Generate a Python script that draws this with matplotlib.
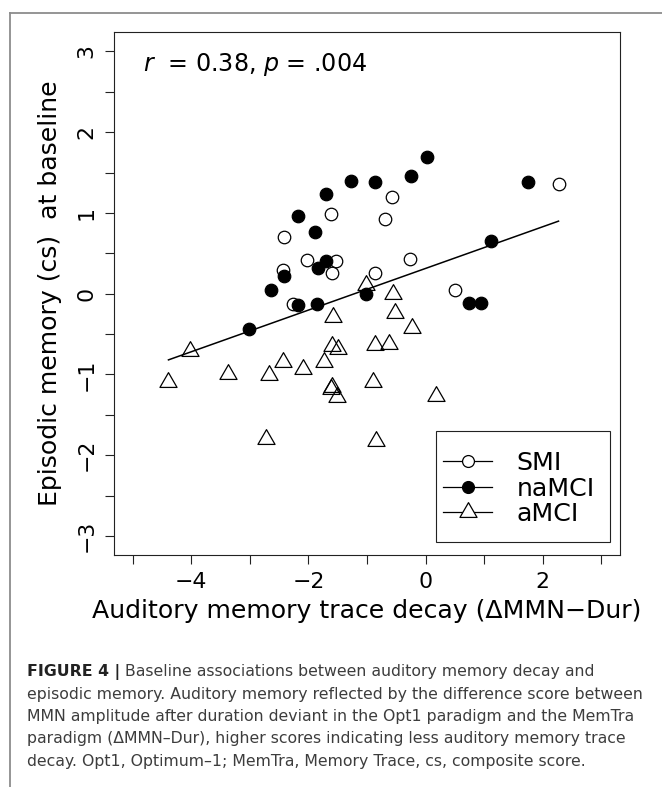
import numpy as np
import matplotlib
matplotlib.use("Agg")
import matplotlib.pyplot as plt
from matplotlib.path import Path
from matplotlib.lines import Line2D
from matplotlib.patches import Rectangle

# ---------------- data ----------------
smi_x = [-1.62, -2.42, -2.03, -1.53, -2.43, -1.60, -0.87, -2.27, -0.57, -0.70, 2.27, -0.26, 0.51]
smi_y = [0.99, 0.70, 0.42, 0.41, 0.29, 0.26, 0.26, -0.13, 1.20, 0.92, 1.36, 0.43, 0.04]

namci_x = [-1.28, -0.86, -1.70, -2.17, -1.88, -1.70, -1.84, -2.42, -2.64, -2.17, -1.86, -1.02,
           -3.01, -0.25, 0.02, 1.75, 1.11, 0.75, 0.94]
namci_y = [1.40, 1.38, 1.23, 0.96, 0.76, 0.40, 0.32, 0.22, 0.05, -0.14, -0.13, -0.01,
           -0.44, 1.46, 1.69, 1.38, 0.65, -0.12, -0.11]

amci_x = [-1.58, -4.03, -1.60, -1.49, -0.86, -0.62, -2.43, -2.10, -1.74, -3.38, -2.68, -4.39,
          -1.61, -1.60, -1.51, -0.90, -2.73, -0.85, -1.02, -0.56, -0.53, -0.23, 0.17]
amci_y = [-0.29, -0.71, -0.65, -0.69, -0.64, -0.62, -0.85, -0.93, -0.85, -0.99, -1.01, -1.10,
          -1.18, -1.16, -1.28, -1.10, -1.80, -1.83, 0.11, 0.00, -0.24, -0.42, -1.27]

group_labels = ["SMI", "naMCI", "aMCI"]
x_tick_values = [-5, -4, -3, -2, -1, 0, 1, 2, 3]
x_tick_labels = ["", "\u22124", "", "\u22122", "", "0", "", "2", ""]
y_tick_values = [-3, -2.5, -2, -1.5, -1, -0.5, 0, 0.5, 1, 1.5, 2, 2.5, 3]
y_tick_labels = ["\u22123", "", "\u22122", "", "\u22121", "", "0", "", "1", "", "2", "", "3"]
stat_text = r"$\mathit{r}$  = 0.38, $\mathit{p}$ = .004"
x_label = "Auditory memory trace decay (\u0394MMN\u2212Dur)"
y_label = "Episodic memory (cs)  at baseline"

caption_bold = "FIGURE 4 |"
caption_lines = [
    "Baseline associations between auditory memory decay and",
    "episodic memory. Auditory memory reflected by the difference score between",
    "MMN amplitude after duration deviant in the Opt1 paradigm and the MemTra",
    "paradigm (\u0394MMN\u2013Dur), higher scores indicating less auditory memory trace",
    "decay. Opt1, Optimum\u20131; MemTra, Memory Trace, cs, composite score.",
]

# ---------------- style ----------------
plt.rcParams["font.family"] = ["DejaVu Sans"]
plt.rcParams["mathtext.fontset"] = "dejavusans"

W, H = 662, 787
fig = plt.figure(figsize=(W / 100, H / 100), dpi=100)
fig.patch.set_facecolor("white")

def fx(px):
    return px / W

def fy(py):
    return 1 - py / H

ax_l, ax_r, ax_t, ax_b = 114, 620, 32, 555.3
ax = fig.add_axes([fx(ax_l), fy(ax_b), (ax_r - ax_l) / W, (ax_b - ax_t) / H])

# triangle marker with centroid at the point (R pch=2 style)
tri = Path([(0, 1), (-0.866, -0.5), (0.866, -0.5), (0, 1)],
           [Path.MOVETO, Path.LINETO, Path.LINETO, Path.CLOSEPOLY])

ms_c = 9.0
ms_t = 14.2
ax.plot(smi_x, smi_y, ls="none", marker="o", ms=ms_c, mfc="none", mec="black", mew=0.9)
ax.plot(namci_x, namci_y, ls="none", marker="o", ms=ms_c, mfc="black", mec="black", mew=0.9)
ax.plot(amci_x, amci_y, ls="none", marker=tri, ms=ms_t, mfc="none", mec="black", mew=0.9)

# regression line over the data range
all_x = np.array(smi_x + namci_x + amci_x)
all_y = np.array(smi_y + namci_y + amci_y)
slope, intercept = np.polyfit(all_x, all_y, 1)
xx = np.array([all_x.min(), all_x.max()])
ax.plot(xx, intercept + slope * xx, color="black", lw=1.1)

ax.set_xlim(-5.32, 3.32)
ax.set_ylim(-3.24, 3.24)
ax.set_xticks(x_tick_values)
ax.set_xticklabels(x_tick_labels)
ax.set_yticks(y_tick_values)
ax.set_yticklabels(y_tick_labels, rotation=90, va="center")
ax.tick_params(axis="both", direction="out", length=6.8, width=0.8, labelsize=15.8, color="#222222")
ax.tick_params(axis="x", pad=5)
ax.tick_params(axis="y", pad=6)
for s in ax.spines.values():
    s.set_linewidth(0.8)
    s.set_color("#222222")

ax.set_xlabel(x_label, fontsize=18.1, va="baseline")
ax.xaxis.set_label_coords(0.5, (ax_b - 618.3) / (ax_b - ax_t))
ax.set_ylabel(y_label, fontsize=18.1, va="baseline")
ax.yaxis.set_label_coords((56.7 - ax_l) / (ax_r - ax_l), 0.5)

ax.text(fx(143), fy(71), stat_text, transform=fig.transFigure, fontsize=17.1,
        ha="left", va="baseline")

# ---------------- legend (R style) ----------------
fig.add_artist(Rectangle((fx(435.7), fy(541.7)), fx(610.3) - fx(435.7), fy(431.3) - fy(541.7),
                         transform=fig.transFigure, fill=False, ec="#222222", lw=0.8))
leg_y = [460.7, 486.7, 512.0]
leg_styles = [dict(marker="o", ms=ms_c * 0.95, mfc="white", mec="black"),
              dict(marker="o", ms=ms_c * 0.95, mfc="black", mec="black"),
              dict(marker=tri, ms=ms_t, mfc="white", mec="black")]
for lbl, yy, st in zip(group_labels, leg_y, leg_styles):
    fig.add_artist(Line2D([fx(442.7), fx(492.3)], [fy(yy), fy(yy)], transform=fig.transFigure,
                          color="black", lw=0.9))
    fig.add_artist(Line2D([fx(467.7)], [fy(yy)], transform=fig.transFigure, ls="none",
                          mew=0.9, **st))
    fig.text(fx(516.7), fy(yy + 9.3), lbl, fontsize=18.2, ha="left", va="baseline")

# ---------------- outer frame ----------------
fig.add_artist(Line2D([fx(9.7), 1.0], [fy(13.3), fy(13.3)], transform=fig.transFigure,
                      color="#8c8c8c", lw=1.3))
fig.add_artist(Line2D([fx(9.7), fx(9.7)], [fy(13.3), 0.0], transform=fig.transFigure,
                      color="#8c8c8c", lw=1.3))

# ---------------- caption ----------------
cap_size = 11.35
cap_color = "#3d3d3d"
baselines = [676.0, 698.5, 721.0, 743.5, 766.0]
tb = fig.text(fx(26.7), fy(baselines[0]), caption_bold, fontsize=cap_size, fontweight="bold",
              color="#222222", ha="left", va="baseline")
fig.canvas.draw()
bb = tb.get_window_extent(renderer=fig.canvas.get_renderer())
fig.text(fx(bb.x1 + 5), fy(baselines[0]), caption_lines[0], fontsize=cap_size, color=cap_color,
         ha="left", va="baseline")
for line, b in zip(caption_lines[1:], baselines[1:]):
    fig.text(fx(26.7), fy(b), line, fontsize=cap_size, color=cap_color, ha="left", va="baseline")

fig.savefig("out.png", dpi=100, facecolor="white")
